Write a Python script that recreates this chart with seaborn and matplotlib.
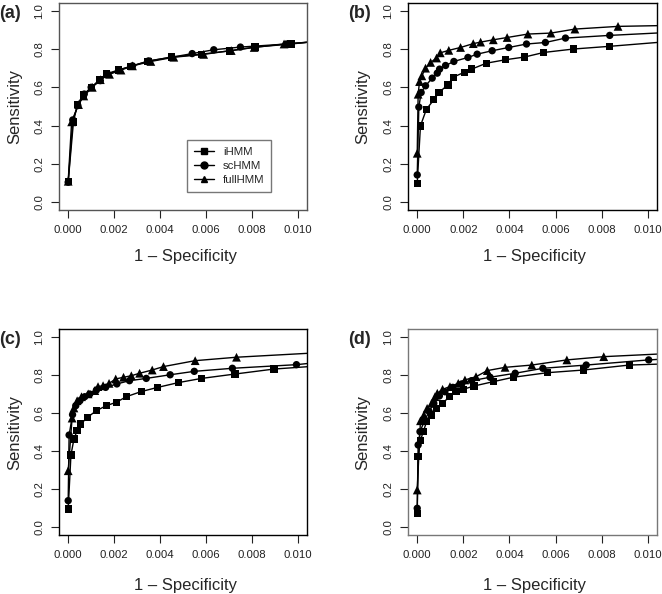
import matplotlib
matplotlib.use('Agg')
import matplotlib.pyplot as plt
from matplotlib.lines import Line2D
import numpy as np
import pandas as pd
import seaborn as sns

sns.set_style('ticks')
plt.rcParams['font.family'] = ['Liberation Sans', 'DejaVu Sans']

# ROC points; the last point of each list is where the
# curve leaves the plot (no marker drawn there)

# (a)
a_ihmm_fpr = [0, 0.00023, 0.0004, 0.00066, 0.00101, 0.00136, 0.00166, 0.00218, 0.00273, 0.00348, 0.0045, 0.0058, 0.00702, 0.00813, 0.0097, 0.0105]
a_ihmm_sens = [0.108, 0.42, 0.51, 0.56, 0.60, 0.64, 0.67, 0.69, 0.71, 0.736, 0.758, 0.773, 0.79, 0.81, 0.826, 0.836]
a_sc_fpr = [0, 0.0002, 0.00042, 0.0007, 0.001, 0.0014, 0.0017, 0.0022, 0.0028, 0.0035, 0.0045, 0.0054, 0.00634, 0.0075, 0.0095, 0.0105]
a_sc_sens = [0.105, 0.43, 0.505, 0.565, 0.60, 0.635, 0.668, 0.69, 0.712, 0.738, 0.757, 0.776, 0.796, 0.81, 0.826, 0.836]
a_full_fpr = [0, 0.00015, 0.00045, 0.00068, 0.00105, 0.0014, 0.0018, 0.0023, 0.0028, 0.0036, 0.0046, 0.0059, 0.0071, 0.0081, 0.0094, 0.0105]
a_full_sens = [0.11, 0.42, 0.51, 0.555, 0.60, 0.64, 0.668, 0.69, 0.712, 0.735, 0.757, 0.772, 0.792, 0.808, 0.826, 0.836]

# (b)
b_ihmm_fpr = [0, 0.00014, 0.0004, 0.00072, 0.00094, 0.00133, 0.00156, 0.00205, 0.00236, 0.003, 0.00383, 0.00465, 0.00549, 0.00679, 0.00835, 0.0105]
b_ihmm_sens = [0.099, 0.399, 0.486, 0.535, 0.573, 0.613, 0.653, 0.679, 0.695, 0.726, 0.744, 0.758, 0.782, 0.80, 0.814, 0.835]
b_sc_fpr = [0, 0.00007, 0.00017, 0.00036, 0.00065, 0.00087, 0.00097, 0.00123, 0.00159, 0.0022, 0.0026, 0.00325, 0.00397, 0.00474, 0.00556, 0.00643, 0.00835, 0.0105]
b_sc_sens = [0.143, 0.497, 0.573, 0.608, 0.648, 0.674, 0.695, 0.714, 0.735, 0.756, 0.773, 0.791, 0.808, 0.826, 0.834, 0.857, 0.871, 0.884]
b_full_fpr = [0, 0.00004, 0.0001, 0.0002, 0.00036, 0.00058, 0.00084, 0.001, 0.00137, 0.00188, 0.00243, 0.00275, 0.0033, 0.0039, 0.0048, 0.0058, 0.00684, 0.00871, 0.0105]
b_full_sens = [0.256, 0.564, 0.63, 0.66, 0.70, 0.73, 0.753, 0.78, 0.793, 0.808, 0.828, 0.836, 0.848, 0.86, 0.878, 0.883, 0.904, 0.918, 0.922]

# (c)
c_ihmm_fpr = [0, 0.00012, 0.00025, 0.00039, 0.00055, 0.00084, 0.00123, 0.00166, 0.0021, 0.00253, 0.00318, 0.0039, 0.0048, 0.00581, 0.00727, 0.00896, 0.0105]
c_ihmm_sens = [0.096, 0.379, 0.463, 0.507, 0.542, 0.577, 0.612, 0.638, 0.656, 0.685, 0.712, 0.734, 0.759, 0.781, 0.804, 0.83, 0.843]
c_sc_fpr = [0, 0.00004, 0.00019, 0.00033, 0.00051, 0.00072, 0.00094, 0.00123, 0.00163, 0.00212, 0.00267, 0.0034, 0.00444, 0.00549, 0.00715, 0.00994, 0.0105]
c_sc_sens = [0.14, 0.484, 0.591, 0.638, 0.664, 0.685, 0.699, 0.72, 0.734, 0.752, 0.769, 0.781, 0.80, 0.818, 0.834, 0.853, 0.86]
c_full_fpr = [0, 0.00017, 0.00025, 0.00039, 0.00058, 0.00087, 0.00116, 0.0013, 0.00152, 0.00178, 0.00207, 0.00241, 0.00275, 0.00311, 0.00366, 0.00415, 0.00553, 0.00733, 0.0105]
c_full_sens = [0.297, 0.573, 0.626, 0.664, 0.685, 0.70, 0.717, 0.738, 0.743, 0.755, 0.778, 0.787, 0.795, 0.808, 0.825, 0.843, 0.874, 0.892, 0.913]

# (d)
d_ihmm_fpr = [0, 0.00004, 0.00014, 0.00026, 0.00041, 0.00062, 0.00084, 0.0011, 0.00139, 0.00168, 0.002, 0.00246, 0.0033, 0.00417, 0.00565, 0.00722, 0.0092, 0.0105]
d_ihmm_sens = [0.073, 0.371, 0.455, 0.502, 0.554, 0.589, 0.624, 0.65, 0.685, 0.711, 0.724, 0.741, 0.764, 0.787, 0.811, 0.825, 0.851, 0.856]
d_sc_fpr = [0, 0.00004, 0.00012, 0.00033, 0.00052, 0.00072, 0.00096, 0.0012, 0.00154, 0.00193, 0.00236, 0.00316, 0.00425, 0.00545, 0.00733, 0.01004, 0.0105]
d_sc_sens = [0.10, 0.432, 0.502, 0.563, 0.607, 0.65, 0.689, 0.711, 0.734, 0.752, 0.769, 0.787, 0.808, 0.834, 0.851, 0.878, 0.881]
d_full_fpr = [0, 0.00014, 0.00029, 0.00043, 0.00062, 0.00077, 0.00087, 0.0011, 0.00142, 0.00178, 0.00207, 0.00255, 0.00304, 0.00381, 0.00497, 0.00649, 0.00809, 0.0105]
d_full_sens = [0.196, 0.559, 0.589, 0.624, 0.65, 0.685, 0.703, 0.724, 0.738, 0.755, 0.773, 0.79, 0.822, 0.839, 0.851, 0.878, 0.895, 0.909]

methods = ['iHMM', 'scHMM', 'fullHMM']
markers = ['s', 'o', '^']
sizes = [28, 28, 40]

panels = [
    ('(a)', [(a_ihmm_fpr, a_ihmm_sens), (a_sc_fpr, a_sc_sens), (a_full_fpr, a_full_sens)]),
    ('(b)', [(b_ihmm_fpr, b_ihmm_sens), (b_sc_fpr, b_sc_sens), (b_full_fpr, b_full_sens)]),
    ('(c)', [(c_ihmm_fpr, c_ihmm_sens), (c_sc_fpr, c_sc_sens), (c_full_fpr, c_full_sens)]),
    ('(d)', [(d_ihmm_fpr, d_ihmm_sens), (d_sc_fpr, d_sc_sens), (d_full_fpr, d_full_sens)]),
]

# axes rectangles in figure fraction (figure is 662x594 px)
rects = [
    [59/662, 1 - 210/594, 248/662, 207/594],
    [408/662, 1 - 210/594, 249/662, 207/594],
    [59/662, 1 - 535/594, 248/662, 206/594],
    [408/662, 1 - 535/594, 249/662, 206/594],
]
spine_cols = ['#555555', 'black', 'black', '#777777']
xlab_y = [-0.19, -0.19, -0.21, -0.21]

fig = plt.figure(figsize=(6.62, 5.94), dpi=100)

for i, (tag, series) in enumerate(panels):
    ax = fig.add_axes(rects[i])
    for (fpr, sens), m, s in zip(series, markers, sizes):
        df = pd.DataFrame({'fpr': fpr, 'sens': sens})
        sns.lineplot(data=df, x='fpr', y='sens', sort=False, estimator=None,
                     color='black', lw=1, ax=ax)
        sns.scatterplot(data=df.iloc[:-1], x='fpr', y='sens', marker=m, s=s,
                        color='black', edgecolor='none', ax=ax, zorder=3)

    ax.set_xlim(-0.0004, 0.0104)
    ax.set_ylim(-0.04, 1.04)
    xt = np.arange(0, 0.0101, 0.002)
    yt = np.arange(0, 1.01, 0.2)
    ax.set_xticks(xt)
    ax.set_xticklabels([f'{v:.3f}' for v in xt])
    ax.set_yticks(yt)
    ax.set_yticklabels([f'{v:.1f}' for v in yt], rotation=90, va='center')
    ax.tick_params(direction='out', length=5.5, width=0.8, labelsize=8.2,
                   colors='#222222', pad=5)
    for sp in ax.spines.values():
        sp.set_visible(True)
        sp.set_color(spine_cols[i])
        sp.set_linewidth(1)

    ax.set_xlabel('1 \u2013 Specificity', fontsize=12)
    ax.set_ylabel('Sensitivity', fontsize=12)
    ax.xaxis.set_label_coords(0.51, xlab_y[i])
    ax.yaxis.set_label_coords(-0.15, 0.5)

    # panel tag
    ax.text(-0.24, 0.95, tag, transform=ax.transAxes, fontsize=13,
            fontweight='bold', ha='left', va='center')

    if i == 0:
        handles = [Line2D([], [], color='black', lw=1, marker=m, markersize=5)
                   for m in markers]
        leg = ax.legend(handles, methods, loc='lower left',
                        bbox_to_anchor=(0.495, 0.06), fontsize=8.2,
                        frameon=True, fancybox=False, handlelength=1.7,
                        labelspacing=0.35, borderpad=0.6, handletextpad=0.8)
        leg.get_frame().set_edgecolor('#555555')
        leg.get_frame().set_linewidth(1)

fig.savefig('out.png', dpi=100)
